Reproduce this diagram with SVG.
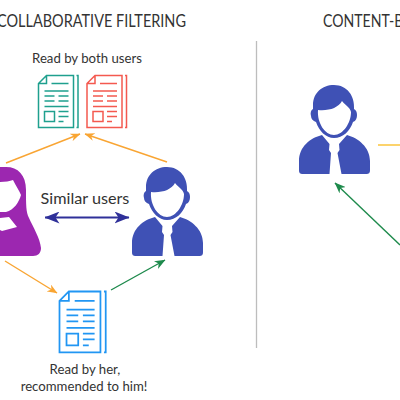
<svg xmlns="http://www.w3.org/2000/svg" width="400" height="400" viewBox="0 0 400 400">
<style>
text{font-family:Lato,"Noto Sans",sans-serif;fill:#333;text-anchor:middle}
.t{font-size:17px;text-anchor:start}.s{font-size:13.200px}
.d{fill:none;stroke-width:1.500}
.u{fill:#3f51b5}
.c{fill:none;stroke-width:1.400}
</style>
<defs>
<marker id="ao" markerUnits="userSpaceOnUse" viewBox="0 0 10 8" refX="9.500" refY="4" markerWidth="10" markerHeight="8" orient="auto"><path d="M10 4L0 0 3 4 0 8Z" fill="#f9a533"/></marker>
<marker id="ag" markerUnits="userSpaceOnUse" viewBox="0 0 10 8" refX="9.500" refY="4" markerWidth="11" markerHeight="9" orient="auto"><path d="M10 4L0 0 3 4 0 8Z" fill="#1e8a4c"/></marker>
<marker id="ap" markerUnits="userSpaceOnUse" viewBox="0 0 15 12" refX="14.500" refY="6" markerWidth="15" markerHeight="12" orient="auto-start-reverse"><path d="M15 6L0 0 4 6 0 12Z" fill="#2f3099"/></marker>
<g id="doc">
<path class="d" d="M8 0H35V52H0V8ZM8 0V8H0M38 0H39.500V52H38"/>
<path class="d" d="M13 8H30M6 15.500H30M6 20.500H16M20 20.500H30M6 25.500H16M20 25.500H30M6 31H30M6 36H16V46H6ZM20 36H30M20 41H30M20 46H25"/>
</g>
<g id="man">
<path fill-rule="evenodd" d="M167 167C155 167 146 175 146 187C146 189 146 190 146 191C144 192 143 195 144 198C144 201 146 203 149 204C152 213 159 220 167 220C176 220 183 213 186 204C189 203 190 200 190 197C190 194 189 192 187 191C188 178 180 167 167 167ZM151 192C162 193 171 190 175 183C178 187 183 189 184 194C184 205 176 217 167 217C158 217 150 205 151 192Z"/>
<path d="M155 217C143 220 132 229 132 243V252C132 255 133 256 136 256H162.500L164 235 162 232 162.500 226ZM180 217C191 220 203 229 203 243V252C203 255 202 256 199 256H174.500L170.500 235 172.500 232 172 226Z"/>
</g>
</defs>
<text class="t" x="-3" y="27" textLength="189" lengthAdjust="spacingAndGlyphs">COLLABORATIVE FILTERING</text>
<text class="t" x="323" y="27" textLength="188" lengthAdjust="spacingAndGlyphs">CONTENT-BASED FILTERING</text>
<text class="s" x="87" y="63">Read by both users</text>
<text x="85" y="204" font-size="16.200">Similar users</text>
<text class="s" x="85" y="374">Read by her,</text>
<text class="s" x="84" y="391">recommended to him!</text>
<line x1="256.500" y1="41" x2="256.500" y2="348" stroke="#bdbdbd" stroke-width="1.300"/>
<g id="doc-green" stroke="#1fa08e"><use href="#doc" x="38.500" y="75.500"/></g>
<g id="doc-red" stroke="#f4594f"><use href="#doc" x="87" y="75.500"/></g>
<g id="doc-blue" stroke="#2196f3"><use href="#doc" transform="translate(59.500 291.500) scale(1.170)"/></g>
<g id="user-woman">
<path fill="#9c27b0" fill-rule="evenodd" d="M0 167H6C18 167 26 175 26 190C26 205 26 212 29 218C33 227 40 238 41 248C41 253 38 256 33 256H0ZM0 182C5 182 10 181 13 180C16 186 19 190 21 195C19 202 14 210 6 212C4 212 2 212 0 212ZM0 218L9 217 17 227 2 231 0 230Z"/>
</g>
<g id="user-man-1" class="u"><use href="#man"/></g>
<g id="user-man-2" class="u"><use href="#man" x="167" y="-82"/></g>
<g id="connectors">
<path class="c" stroke="#f9a533" marker-end="url(#ao)" d="M6 163L80 134"/>
<path class="c" stroke="#f9a533" marker-end="url(#ao)" d="M167 162L85 134"/>
<path class="c" stroke="#f9a533" marker-end="url(#ao)" d="M5 261L57 293"/>
<path class="c" stroke="#1e8a4c" marker-end="url(#ag)" d="M111 290L165 260"/>
<path stroke="#2f3099" stroke-width="2.200" fill="none" marker-start="url(#ap)" marker-end="url(#ap)" d="M45 217.500H129"/>
<path class="c" stroke="#fbc02d" d="M378 145H400"/>
<path class="c" stroke="#1e8a4c" marker-end="url(#ag)" d="M400 245L335 183"/>
</g>
</svg>
